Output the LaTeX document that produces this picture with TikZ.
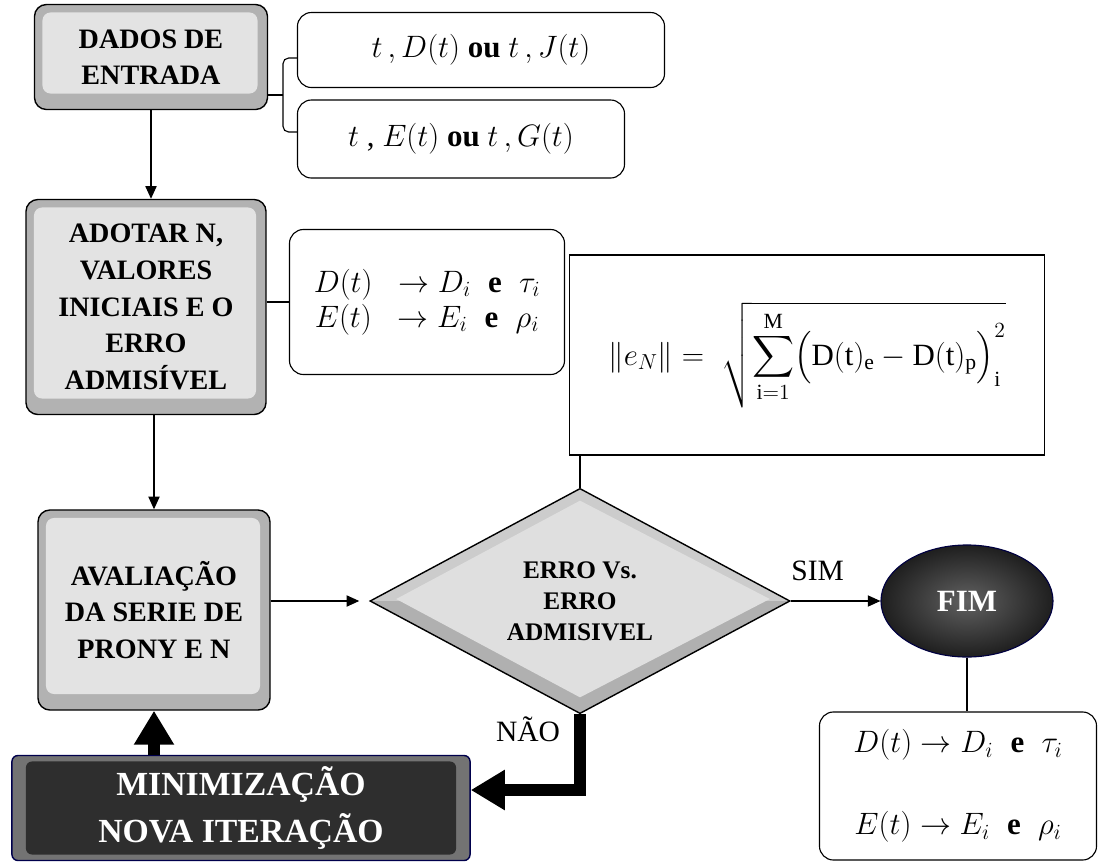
\RequirePackage{fix-cm}
\documentclass[tikz,border=0pt]{standalone}
\usepackage{amsmath}
\usepackage{fontspec}
\setmainfont{LiberationSerif}[Extension=.ttf,UprightFont=*-Regular,BoldFont=*-Bold,ItalicFont=*-Italic,BoldItalicFont=*-BoldItalic]
\usepackage{tikz}
\usetikzlibrary{shapes,calc,positioning,arrows.meta}
\begin{document}
\begin{tikzpicture}[x=0.025cm,y=-0.025cm,
  every node/.append style={align=center,inner sep=0pt},
  fina/.style={-{Triangle[length=9pt,width=8pt]},line width=0.8pt},
  grossa/.style={-{Triangle[length=0.85cm,width=0.95cm]},line width=0.3cm},
  rotulo/.style={font=\fontsize{21}{24}\selectfont}]
  \tikzstyle{bisel} = [rounded corners=0.3cm,draw=black,line width=1pt,fill=gray!60,
    font=\fontsize{20}{26}\selectfont\bfseries,
    path picture={\fill[gray!22,rounded corners=0.2cm] ([shift={(0.2cm,-0.2cm)}]path picture bounding box.north west) rectangle ([shift={(-0.25cm,0.4cm)}]path picture bounding box.south east);}]
  \tikzstyle{caixa} = [rounded corners=0.35cm,draw=black,line width=0.8pt,font=\fontsize{22}{30}\selectfont]
  \tikzstyle{losango} = [diamond,draw=black,line width=1pt,fill=gray!40,
    minimum width=10.5cm,minimum height=4.325cm,font=\fontsize{18}{22}\selectfont\bfseries,
    path picture={\fill[gray!62] (path picture bounding box.west) -- (path picture bounding box.south) -- (path picture bounding box.east) -- cycle;
      \fill[gray!25] ($(path picture bounding box.west)+(0.65cm,0.05cm)$) -- ($(path picture bounding box.north)+(0,-0.3cm)$) -- ($(path picture bounding box.east)+(-0.5cm,0.05cm)$) -- ($(path picture bounding box.south)+(0,0.4cm)$) -- cycle;}]
  \tikzstyle{escuro} = [rounded corners=0.15cm,draw=blue!30!black,line width=1pt,fill=black!55,
    text=white,font=\fontsize{24}{33}\selectfont\bfseries,
    path picture={\fill[black!82] ([shift={(0.35cm,-0.15cm)}]path picture bounding box.north west) rectangle ([shift={(-0.35cm,0.15cm)}]path picture bounding box.south east);}]
  \tikzstyle{fim} = [ellipse,draw=blue!25!black,line width=0.8pt,inner color=black!62,outer color=black!88,
    minimum width=4.3cm,minimum height=2.8cm,text=white,font=\fontsize{22}{26}\selectfont\bfseries]
  \useasboundingbox (0,0) rectangle (1101,864);
  \node (dados_1) [bisel,minimum width=5.825cm,minimum height=2.625cm] at (151,57) {DADOS DE\\ENTRADA};
  \node (entrada_1) [caixa,minimum width=9.175cm,minimum height=1.875cm] at (481,50) {$t\,,D(t)$ \textbf{ou} $t\,,J(t)$};
  \node (entrada_2) [caixa,minimum width=8.175cm,minimum height=1.95cm] at (461,139) {$t$ , $E(t)$ \textbf{ou} $t\,,G(t)$};
  \node (adotar_1) [bisel,minimum width=6cm,minimum height=5.375cm] at (146,307) {ADOTAR N,\\VALORES\\INICIAIS E O\\ERRO\\ADMISÍVEL};
  \node (prony_1) [caixa,minimum width=6.875cm,minimum height=3.625cm,font=\fontsize{22}{25}\selectfont] at (427,302)
    {$D(t)\;\;\rightarrow D_i\;\;\textbf{e}\;\;\tau_i$\\$E(t)\;\;\rightarrow E_i\;\;\textbf{e}\;\;\rho_i$};
  \node (norma_1) [draw=black,line width=0.8pt,minimum width=11.875cm,minimum height=5cm,font=\fontsize{22}{28}\selectfont] at (807,355)
    {$\|e_N\| =\;\sqrt{\displaystyle\sum_{\mathrm{i}=1}^{\mathrm{M}}\Bigl(\mathrm{D(t)_e}-\mathrm{D(t)_p}\Bigr)_{\mathrm{i}}^{2}}$};
  \node (aval_1) [bisel,minimum width=5.8cm,minimum height=5cm] at (154,610) {AVALIAÇÃO\\DA SERIE DE\\PRONY E N};
  \node (erro_1) [losango] at (580,601) {ERRO Vs.\\ERRO\\ADMISIVEL};
  \node (fim_1) [fim] at (967,601) {FIM};
  \node (saida_1) [caixa,minimum width=6.925cm,minimum height=3.7cm] at (958,786)
    {$D(t)\rightarrow D_i\;\;\textbf{e}\;\;\tau_i$\\[1cm]$E(t)\rightarrow E_i\;\;\textbf{e}\;\;\rho_i$};
  \node (minim_1) [escuro,minimum width=11.45cm,minimum height=2.625cm] at (241,808) {MINIMIZAÇÃO\\NOVA ITERAÇÃO};
  \coordinate (chave) at (283,95);
  \draw[line width=0.8pt] (chave -| dados_1.east) -- (chave);
  \draw[line width=0.8pt,rounded corners=4pt] (entrada_1.west |- 0,58) -- (283,58) -- (283,132) -- (entrada_2.west |- 0,132);
  \draw[fina] (dados_1.south) -- (dados_1.south |- adotar_1.north);
  \draw[line width=0.8pt] (prony_1.west -| adotar_1.east) -- (prony_1.west);
  \draw[fina] (aval_1.north |- adotar_1.south) -- (aval_1.north);
  \draw[line width=0.8pt] (erro_1.north) -- (erro_1.north |- norma_1.south);
  \draw[fina,shorten >=0.25cm] (aval_1.east |- erro_1.west) -- (erro_1.west);
  \draw[fina] (erro_1.east) -- node[rotulo,above=0.5cm,pos=0.3] {SIM} (fim_1.west);
  \draw[line width=0.8pt] (fim_1.south) -- (fim_1.south |- saida_1.north);
  \draw[grossa] (erro_1.south) -- node[rotulo,left=0.35cm,pos=0.2] {NÃO} (erro_1.south |- 0,790) -- (minim_1.east |- 0,790);
  \draw[grossa] (aval_1.south |- minim_1.north) -- (aval_1.south);
\end{tikzpicture}
\end{document}
